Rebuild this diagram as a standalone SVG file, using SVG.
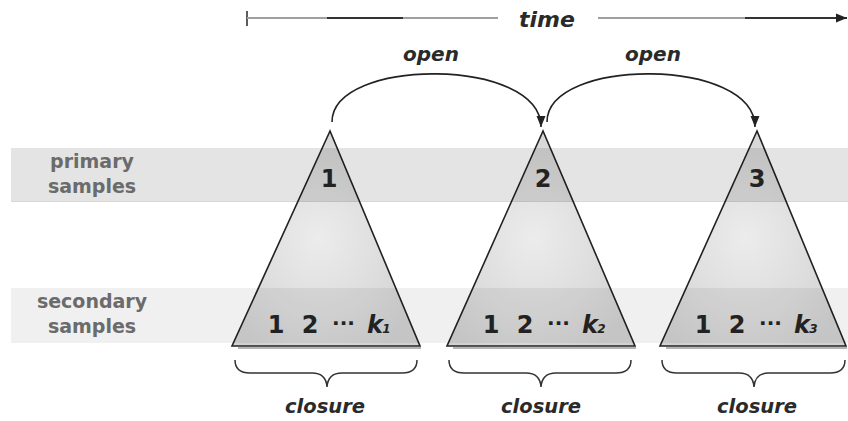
<svg xmlns="http://www.w3.org/2000/svg" width="848" height="421" viewBox="0 0 848 421">
  <defs>
    <radialGradient id="triFill" cx="0.46" cy="0.5" r="0.6">
      <stop offset="0" stop-color="#ececec"/>
      <stop offset="0.55" stop-color="#dedede"/>
      <stop offset="1" stop-color="#d2d2d2"/>
    </radialGradient>
    <marker id="arrow" markerUnits="userSpaceOnUse" markerWidth="12" markerHeight="10" refX="11" refY="5" orient="auto">
      <path d="M0,0.5 L11,5 L0,9.5 z" fill="#222"/>
    </marker>
    <style>
      .band1 { fill: #000; fill-opacity: 0.105; }
      .band2 { fill: #000; fill-opacity: 0.06; }
      .tri { fill: url(#triFill); stroke: #222; stroke-width: 1.6; stroke-linejoin: miter; }
      .shadow { stroke: #b5b5b5; stroke-width: 2; }
      .lbl { font-family: "DejaVu Sans", Verdana, sans-serif; font-weight: bold; font-size: 19px; fill: #6b6b6b; text-anchor: middle; }
      .num { font-family: "DejaVu Sans", Verdana, sans-serif; font-weight: bold; font-size: 24px; fill: #222; text-anchor: middle; }
      .dots { font-size: 20px; }
      .kk { font-style: italic; }
      .sub { font-style: italic; font-size: 12px; }
      .it { font-family: "DejaVu Sans", Verdana, sans-serif; font-weight: bold; font-style: italic; fill: #2a2a2a; text-anchor: middle; }
      .conn { fill: none; stroke: #222; stroke-width: 1.6; }
      .brace { fill: none; stroke: #333; stroke-width: 1.5; }
    </style>
  </defs>

  <rect width="848" height="421" fill="#ffffff"/>

  <!-- time axis -->
  <g id="time-axis">
    <line x1="247" y1="11" x2="247" y2="26" stroke="#333" stroke-width="1.6"/>
    <line x1="247" y1="18" x2="327" y2="18" stroke="#a0a0a0" stroke-width="2"/>
    <line x1="327" y1="18" x2="403" y2="18" stroke="#333" stroke-width="2"/>
    <line x1="403" y1="18" x2="498" y2="18" stroke="#a0a0a0" stroke-width="2"/>
    <line x1="598" y1="18" x2="745" y2="18" stroke="#a0a0a0" stroke-width="2"/>
    <line x1="745" y1="18" x2="847" y2="18" stroke="#333" stroke-width="2" marker-end="url(#arrow)"/>
    <text class="it" x="547" y="27" font-size="22">time</text>
  </g>

  <!-- triangles (drawn beneath the bands) -->
  <g id="tri1">
    <line class="shadow" x1="238" y1="348" x2="421" y2="348"/>
    <polygon class="tri" points="330,131 232,346 420,346"/>
  </g>
  <g id="tri2">
    <line class="shadow" x1="453" y1="348" x2="636" y2="348"/>
    <polygon class="tri" points="543,131 447,346 635,346"/>
  </g>
  <g id="tri3">
    <line class="shadow" x1="666" y1="348" x2="847" y2="348"/>
    <polygon class="tri" points="757,131 660,346 846,346"/>
  </g>

  <!-- bands -->
  <g id="band-primary">
    <rect class="band1" x="11" y="148" width="837" height="54"/>
    <line x1="11" y1="201.5" x2="848" y2="201.5" stroke="#000" stroke-opacity="0.06" stroke-width="1"/>
    <text class="lbl" x="92" y="168">primary</text>
    <text class="lbl" x="92" y="193">samples</text>
  </g>
  <g id="band-secondary">
    <rect class="band2" x="11" y="288" width="837" height="55"/>
    <text class="lbl" x="92" y="308">secondary</text>
    <text class="lbl" x="92" y="333">samples</text>
  </g>

  <!-- triangle labels -->
  <g id="tri1-labels">
    <text class="num" x="329" y="187">1</text>
    <text class="num" y="333"><tspan x="276">1</tspan><tspan x="310">2</tspan><tspan class="dots" x="343.5" y="330">···</tspan><tspan class="kk" x="375" y="333">k</tspan><tspan class="sub" x="386.5" y="333">1</tspan></text>
  </g>
  <g id="tri2-labels">
    <text class="num" x="543" y="187">2</text>
    <text class="num" y="333"><tspan x="491">1</tspan><tspan x="525">2</tspan><tspan class="dots" x="558.5" y="330">···</tspan><tspan class="kk" x="590" y="333">k</tspan><tspan class="sub" x="601.5" y="333">2</tspan></text>
  </g>
  <g id="tri3-labels">
    <text class="num" x="757" y="187">3</text>
    <text class="num" y="333"><tspan x="703">1</tspan><tspan x="737">2</tspan><tspan class="dots" x="770.5" y="330">···</tspan><tspan class="kk" x="802" y="333">k</tspan><tspan class="sub" x="813.5" y="333">3</tspan></text>
  </g>

  <!-- connectors -->
  <g id="connectors">
    <path class="conn" d="M332,122 C332,57 541,57 541,127" marker-end="url(#arrow)"/>
    <path class="conn" d="M547,122 C547,57 755,57 755,127" marker-end="url(#arrow)"/>
    <text class="it" x="431" y="61" font-size="20">open</text>
    <text class="it" x="653" y="61" font-size="20">open</text>
  </g>

  <!-- closures -->
  <g id="closure1">
    <path class="brace" d="M235,360 Q235,373 250,373 L312,373 Q326,373 327,387 Q328,373 342,373 L402,373 Q417,373 417,360"/>
    <text class="it" x="325" y="413" font-size="19.5">closure</text>
  </g>
  <g id="closure2">
    <path class="brace" d="M449,360 Q449,373 464,373 L526,373 Q540,373 541,387 Q542,373 556,373 L616,373 Q631,373 631,360"/>
    <text class="it" x="541" y="413" font-size="19.5">closure</text>
  </g>
  <g id="closure3">
    <path class="brace" d="M662,360 Q662,373 677,373 L739,373 Q753,373 754,387 Q755,373 769,373 L830,373 Q845,373 845,360"/>
    <text class="it" x="757" y="413" font-size="19.5">closure</text>
  </g>
</svg>
